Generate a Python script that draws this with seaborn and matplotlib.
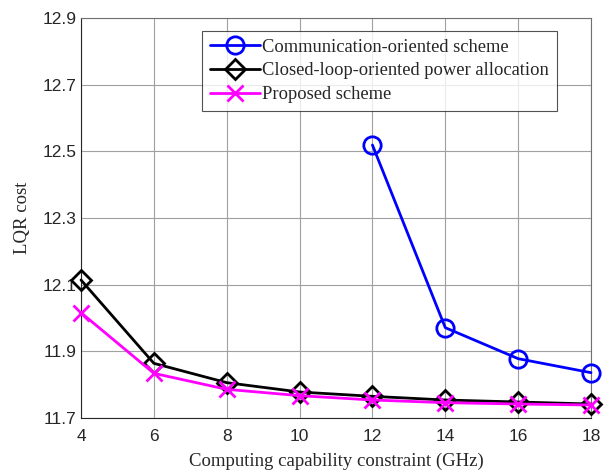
import numpy as np
import pandas as pd
import matplotlib
matplotlib.use("Agg")
import matplotlib.pyplot as plt
import seaborn as sns

x_vals = [4, 6, 8, 10, 12, 14, 16, 18]
comm_x = [12, 14, 16, 18]
comm_y = [12.519, 11.971, 11.878, 11.836]
closed_y = [12.114, 11.864, 11.806, 11.778, 11.765, 11.754, 11.748, 11.742]
proposed_y = [12.016, 11.834, 11.786, 11.767, 11.754, 11.746, 11.742, 11.739]
labels = ["Communication-oriented scheme",
          "Closed-loop-oriented power allocation",
          "Proposed scheme"]
yticks = [11.7, 11.9, 12.1, 12.3, 12.5, 12.7, 12.9]
xticks = [4, 6, 8, 10, 12, 14, 16, 18]

sns.set_style("white")
plt.rcParams['font.family'] = ['Liberation Sans', 'DejaVu Sans']

fig = plt.figure(figsize=(6.06, 4.75), dpi=100)
ax = fig.add_axes([81/606, 1-418/475, 510/606, 400/475])

sns.lineplot(x=comm_x, y=comm_y, ax=ax, color="#0000ff", marker="o",
             markersize=12.5, markerfacecolor="none", markeredgecolor="#0000ff",
             markeredgewidth=2, linewidth=2, label=labels[0], clip_on=False,
             zorder=5)
sns.lineplot(x=x_vals, y=closed_y, ax=ax, color="black", marker="D",
             markersize=10, markerfacecolor="none", markeredgecolor="black",
             markeredgewidth=2, linewidth=2, label=labels[1], clip_on=False,
             zorder=4)
sns.lineplot(x=x_vals, y=proposed_y, ax=ax, color="#ff00ff", marker="x",
             markersize=11, markeredgecolor="#ff00ff", markerfacecolor="#ff00ff",
             markeredgewidth=2, linewidth=2, label=labels[2], clip_on=False,
             zorder=6)

ax.set_xlim(4, 18)
ax.set_ylim(11.7, 12.9)
ax.set_xticks(xticks)
ax.set_yticks(yticks)
ax.set_yticklabels([f"{v:.1f}" for v in yticks])
ax.tick_params(direction="in", length=4, labelsize=12.5, colors="#262626",
               top=False, right=False)
ax.tick_params(axis="x", pad=8)
ax.grid(True, color="#a0a0a0", linewidth=0.8)
for s in ax.spines.values():
    s.set_color("#262626")
    s.set_linewidth(0.8)
ax.spines["top"].set_color("#707070")
ax.spines["right"].set_color("#707070")

ax.set_xlabel("Computing capability constraint (GHz)", family="Liberation Serif",
              fontsize=13.5, labelpad=6)
ax.set_ylabel("LQR cost", family="Liberation Serif", fontsize=13.5, labelpad=8)

leg = ax.legend(loc="upper left", bbox_to_anchor=(121/510, 1-13/400),
                prop={"family": "Liberation Serif", "size": 13.3},
                frameon=True, fancybox=False, edgecolor="#262626",
                borderpad=0.42, labelspacing=0.36, handlelength=2.7,
                handletextpad=0.15, borderaxespad=0)
leg.get_frame().set_linewidth(0.8)
leg.set_zorder(10)

fig.savefig("out.png", dpi=100)
